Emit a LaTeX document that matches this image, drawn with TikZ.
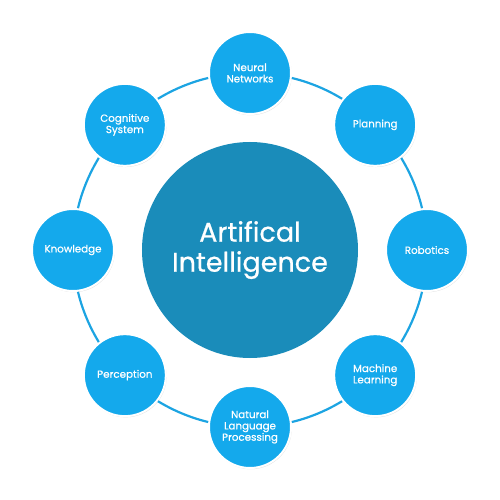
\documentclass[tikz,border=0pt]{standalone}
\usepackage{fontspec}
\setmainfont{Poppins}
\newfontfamily\medfont{Poppins}[FakeBold=0.7]
\usepackage{xcolor}
\usetikzlibrary{shadows}
\definecolor{ringblue}{HTML}{1CA4E2}
\definecolor{leafblue}{HTML}{14A9EC}
\definecolor{coreblue}{HTML}{1A8CBA}

\begin{document}
\begin{tikzpicture}[x=1pt, y=1pt,
      leaf/.style={circle, fill=leafblue, draw=white, line width=2pt, minimum size=82pt,
                   inner sep=0pt, align=center, text=white, font=\medfont\fontsize{10.3}{11.3}\selectfont,
                   drop shadow={opacity=0.25, shadow xshift=0.8pt, shadow yshift=-1.2pt}},
      core/.style={circle, fill=coreblue, minimum size=216pt, inner sep=0pt, align=center,
                   text=white, font=\medfont\fontsize{27}{30}\selectfont},
      ring/.style={draw=ringblue, line width=2.2pt}
    ]
    \useasboundingbox (-250,-250) rectangle (250,250);
    \coordinate (o) at (0,0);
    \draw[ring] (o) circle (177);
    \node[core] (ai) at (o) {Artifical\\Intelligence};
    \node[leaf] (nn)   at (90:177)   {Neural\\Networks};
    \node[leaf] (plan) at (45:177)   {Planning};
    \node[leaf] (rob)  at (0:177)    {Robotics};
    \node[leaf] (ml)   at (-45:177)  {Machine\\Learning};
    \node[leaf] (nlp)  at (-90:177)  {Natural\\Language\\Processing};
    \node[leaf] (perc) at (-135:177) {Perception};
    \node[leaf] (know) at (180:177)  {Knowledge};
    \node[leaf] (cog)  at (135:177)  {Cognitive\\System};
  \end{tikzpicture}
\end{document}
